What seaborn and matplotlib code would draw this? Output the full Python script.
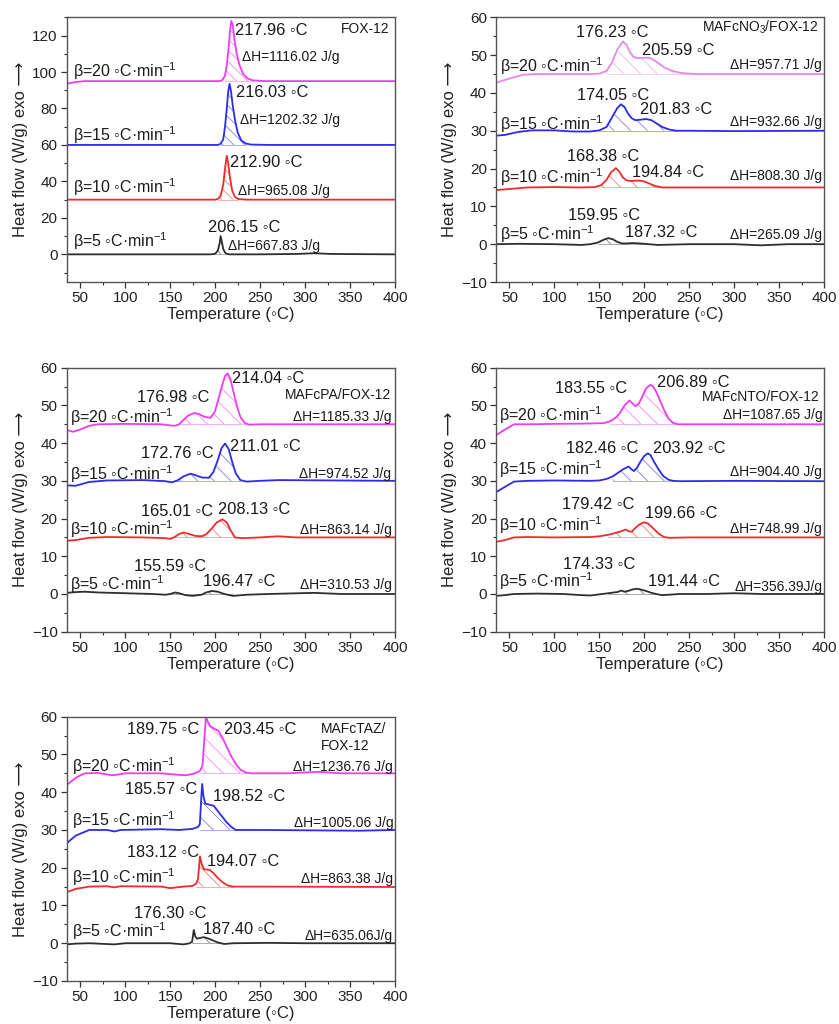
import numpy as np
import pandas as pd
import matplotlib
matplotlib.use("Agg")
import matplotlib.pyplot as plt
import seaborn as sns
from matplotlib.ticker import MultipleLocator

sns.set_theme(style="ticks")
plt.rcParams["font.family"] = ["Liberation Sans", "DejaVu Sans"]
plt.rcParams["mathtext.fontset"] = "custom"
plt.rcParams["mathtext.rm"] = "Liberation Sans"
plt.rcParams["mathtext.default"] = "rm"
plt.rcParams["hatch.linewidth"] = 0.6

DEG = "\u25e6"
rates = [5, 10, 15, 20]
rate_labels = [f"\u03b2={r} {DEG}C\u00b7min$^{{-1}}$" for r in rates]
baselines_1 = [0, 30, 60, 95]
baselines = [0, 15, 30, 45]

# ---------------- Panel 1: FOX-12 ----------------
p1_title = "FOX-12"
p1_T5 = [35, 195, 200, 203, 205, 206.15, 207.5, 209, 211, 213, 216, 250, 290, 310, 330, 400]
p1_y5 = [0, 0, 0.3, 2, 6, 10, 7, 3, 1, 0.3, 0, 0, 0.2, 0.6, 0.2, 0]
p1_T10 = [35, 200, 203, 206, 209, 211, 212.9, 214.5, 216.5, 219, 222, 226, 235, 400]
p1_y10 = [30, 30, 30.4, 32, 38, 47, 54, 50, 42, 35, 31.5, 30.3, 30, 30]
p1_T15 = [35, 203, 206, 209, 211, 213, 214.5, 216.03, 217.5, 219.5, 222, 225, 229, 234, 240, 260, 400]
p1_y15 = [60, 60, 60.6, 63, 70, 80, 89, 93.5, 90, 82, 74, 67, 62.5, 60.8, 60.2, 60, 60]
p1_T20 = [35, 45, 55, 205, 208, 211, 213, 215, 216.5, 217.96, 219.5, 221.5, 224, 227, 231, 236, 242, 255, 400]
p1_y20 = [93.5, 94.5, 95, 95, 95.5, 98, 104, 113, 122, 128, 126, 118, 110, 104, 99, 96.5, 95.4, 95, 95]
p1_peaks = [206.15, 212.90, 216.03, 217.96]
p1_dH = ["\u0394H=667.83 J/g", "\u0394H=965.08 J/g", "\u0394H=1202.32 J/g", "\u0394H=1116.02 J/g"]

# ---------------- Panel 2: MAFcNO3/FOX-12 ----------------
p2_title = "MAFcNO$_3$/FOX-12"
p2_T5 = [35, 60, 100, 130, 140, 148, 155, 160, 165, 170, 175, 180, 187, 195, 205, 215, 250, 300, 330, 360, 400]
p2_y5 = [0, 0.1, 0, -0.2, 0, 0.4, 1.2, 1.6, 1.3, 0.6, 0.2, 0.2, 0.3, 0.2, 0, -0.2, 0, 0, -0.3, 0, 0]
p2_T10 = [35, 50, 70, 100, 130, 145, 152, 158, 163, 168.38, 172, 176, 180, 185, 190, 195, 200, 206, 212, 220, 250, 400]
p2_y10 = [14.3, 14.6, 15, 15.1, 15, 15.1, 15.6, 17, 19, 20.1, 19.3, 17.7, 16.9, 16.7, 16.8, 16.8, 16.6, 16, 15.4, 15, 15, 15]
p2_T15 = [35, 45, 60, 75, 100, 120, 140, 150, 158, 164, 170, 174.05, 178, 182, 186, 190, 195, 202, 208, 214, 220, 228, 236, 250, 300, 400]
p2_y15 = [28.7, 28.9, 29.7, 30.1, 30.1, 29.8, 29.8, 30.1, 31, 33.5, 36, 37, 36.3, 34.5, 33.3, 32.8, 32.9, 33.1, 32.8, 31.9, 31, 30.3, 30, 30, 29.9, 30]
p2_T20 = [35, 50, 65, 80, 140, 150, 158, 164, 170, 176.23, 180, 184, 188, 193, 199, 205.59, 210, 216, 222, 230, 240, 250, 260, 400]
p2_y20 = [42.7, 43.8, 44.8, 45, 45, 45.1, 45.8, 48, 51.5, 53.6, 52.8, 50.8, 49.5, 49.2, 49.3, 49.3, 48.8, 47.8, 46.8, 45.9, 45.3, 45.1, 45, 45]
p2_peaksA = [159.95, 168.38, 174.05, 176.23]
p2_peaksB = [187.32, 194.84, 201.83, 205.59]
p2_dH = ["\u0394H=265.09 J/g", "\u0394H=808.30 J/g", "\u0394H=932.66 J/g", "\u0394H=957.71 J/g"]

# ---------------- Panel 3: MAFcPA/FOX-12 ----------------
p3_title = "MAFcPA/FOX-12"
p3_T5 = [35, 45, 55, 70, 100, 130, 145, 150, 155.59, 160, 167, 175, 185, 190, 196.47, 203, 210, 220, 235, 260, 310, 340, 400]
p3_y5 = [0.3, 0.5, 0.6, 0.4, 0.2, 0, -0.2, 0, 0.4, 0.2, -0.3, -0.5, -0.2, 0.4, 0.8, 0.6, 0, -0.5, -0.2, 0, 0.3, 0, 0]
p3_T10 = [35, 45, 60, 80, 120, 145, 150, 155, 160, 165.01, 170, 178, 185, 190, 196, 202, 208.13, 213, 217, 222, 230, 250, 270, 290, 400]
p3_y10 = [14.1, 14.3, 14.9, 15.1, 15, 14.8, 14.6, 15.1, 15.9, 16.3, 16, 15.4, 15.3, 15.8, 17.3, 19, 19.8, 19, 17, 15, 14.8, 15, 15.3, 15, 15]
p3_T15 = [35, 45, 60, 80, 120, 145, 152, 158, 165, 172.76, 178, 185, 193, 198, 203, 207, 211.01, 215, 219, 223, 228, 235, 250, 270, 400]
p3_y15 = [28.8, 28.7, 29.7, 30.1, 30.2, 29.9, 29.6, 30.1, 31.2, 31.9, 31.5, 30.9, 30.8, 32.3, 35.5, 38.6, 39.9, 38.5, 35, 32, 30.2, 29.8, 30, 30.2, 30]
p3_T20 = [35, 42, 50, 60, 70, 100, 140, 150, 155, 160, 165, 170, 176.98, 182, 188, 195, 200, 204, 208, 211, 214.04, 217, 220, 224, 228, 233, 238, 250, 300, 400]
p3_y20 = [43.5, 43, 43.6, 44.6, 45, 45.1, 45, 44.7, 44.6, 45, 46.2, 47.3, 48, 47.7, 47, 46.7, 48.5, 52, 55.5, 57.8, 58.5, 57, 54, 50, 47, 45.3, 44.9, 45, 45, 45]
p3_peaksA = [155.59, 165.01, 172.76, 176.98]
p3_peaksB = [196.47, 208.13, 211.01, 214.04]
p3_dH = ["\u0394H=310.53 J/g", "\u0394H=863.14 J/g", "\u0394H=974.52 J/g", "\u0394H=1185.33 J/g"]

# ---------------- Panel 4: MAFcNTO/FOX-12 ----------------
p4_title = "MAFcNTO/FOX-12"
p4_T5 = [35, 45, 55, 80, 110, 130, 140, 150, 160, 166, 170, 174.33, 178, 182, 187, 191.44, 196, 202, 208, 215, 220, 240, 270, 300, 330, 400]
p4_y5 = [-0.5, -0.3, 0, 0.1, 0, -0.3, -0.4, -0.1, 0.2, 0.4, 0.5, 0.9, 0.6, 0.8, 1.2, 1.4, 1.2, 0.8, 0.3, -0.1, -0.3, 0, 0, 0.2, 0, 0]
p4_T10 = [35, 45, 55, 70, 100, 140, 150, 160, 168, 174, 179.42, 183, 186, 190, 195, 199.66, 204, 210, 216, 222, 228, 250, 400]
p4_y10 = [13.8, 14.3, 15, 15.1, 15, 15.1, 15.3, 15.7, 16.2, 16.6, 17.1, 16.6, 16.5, 17.5, 18.5, 19, 18.7, 17.4, 16, 15.1, 14.9, 15, 15]
p4_T15 = [35, 45, 55, 70, 100, 140, 150, 158, 165, 170, 176, 182.46, 186, 188.5, 192, 196, 200, 203.92, 207, 211, 216, 221, 227, 232, 240, 300, 400]
p4_y15 = [27, 28.4, 29.8, 30, 30.1, 30, 30.1, 30.5, 31.2, 32, 33, 33.8, 33, 32.6, 33.5, 35.2, 36.6, 37.3, 36.8, 35, 33, 31.3, 30.3, 30, 29.9, 30, 29.9]
p4_T20 = [35, 45, 55, 70, 100, 140, 155, 162, 168, 173, 178, 183.55, 187, 190, 194, 198, 202, 206.89, 210, 214, 218, 222, 227, 232, 237, 250, 400]
p4_y20 = [42.1, 43.6, 45, 45, 45.1, 45.2, 45.3, 45.8, 46.7, 48, 50, 51.3, 50.5, 49.8, 50.5, 52.5, 54.5, 55.5, 55, 53.3, 51, 48.8, 46.5, 45.4, 45, 45, 45]
p4_peaksA = [174.33, 179.42, 182.46, 183.55]
p4_peaksB = [191.44, 199.66, 203.92, 206.89]
p4_dH = ["\u0394H=356.39J/g", "\u0394H=748.99 J/g", "\u0394H=904.40 J/g", "\u0394H=1087.65 J/g"]

# ---------------- Panel 5: MAFcTAZ/FOX-12 ----------------
p5_title = "MAFcTAZ/\nFOX-12"
p5_T5 = [35, 45, 60, 88, 100, 150, 165, 172, 174.5, 176.3, 178, 180, 183, 187.4, 192, 197, 203, 210, 220, 260, 300, 400]
p5_y5 = [-0.3, -0.1, 0, -0.3, 0, 0, -0.3, 0, 0.5, 3.5, 1.8, 1.2, 1.4, 1.6, 1.3, 0.8, 0.2, -0.2, 0, 0.1, 0, 0]
p5_T10 = [35, 45, 60, 80, 88, 95, 140, 150, 165, 175, 179, 181, 183.12, 185, 187.5, 191, 194.07, 198, 203, 208, 214, 220, 250, 400]
p5_y10 = [13.5, 14.4, 15, 15.1, 14.8, 15.1, 15, 14.6, 15, 15.2, 15.8, 17, 23, 21, 19.6, 19.5, 19.4, 18.6, 17.3, 16.2, 15.3, 15, 15, 14.9]
p5_T15 = [35, 45, 60, 80, 88, 95, 140, 160, 175, 181, 183, 184.5, 185.57, 187, 189, 192, 198.52, 203, 208, 213, 218, 223, 250, 360, 400]
p5_y15 = [26.5, 28.5, 30, 30, 29.6, 30, 30.2, 30, 30.3, 30.8, 31.5, 38, 42.2, 39, 37, 36.8, 36.4, 35, 33.5, 32, 30.8, 30, 30, 29.8, 30]
p5_T20 = [35, 45, 55, 70, 85, 90, 100, 140, 160, 168, 176, 183, 186, 188, 189.75, 192, 195, 199, 203.45, 208, 213, 218, 223, 228, 234, 240, 280, 315, 340, 400]
p5_y20 = [41.9, 43.8, 45, 45.1, 44.5, 44.6, 45, 45, 44.6, 44.5, 44.9, 45.6, 47, 54, 60, 58.6, 57.4, 56.8, 56.3, 54.5, 52, 49.5, 47.5, 46, 45.2, 45, 45, 45.4, 45, 45]
p5_peaksA = [176.30, 183.12, 185.57, 189.75]
p5_peaksB = [187.40, 194.07, 198.52, 203.45]
p5_dH = ["\u0394H=635.06J/g", "\u0394H=863.38 J/g", "\u0394H=1005.06 J/g", "\u0394H=1236.76 J/g"]

# ---------------- styling / layout ----------------
COL = ["#2e2e2e", "#ee2b2b", "#2b2be8", "#f03cf0"]
COL_P2 = ["#2e2e2e", "#ee2b2b", "#2b2be8", "#e58ae5"]
FS_PEAK = 11.8
FS_DH = 10
FS_BETA = 11.5
FS_TITLE = 10
FS_TICK = 11
FS_LAB = 12
W, H = 839, 1024


def make_ax(fig, left, top, right, bottom):
    return fig.add_axes([left / W, 1 - bottom / H, (right - left) / W, (bottom - top) / H])


def style_ax(ax, ylim, ymaj, ymin):
    ax.set_xlim(35, 400)
    ax.set_ylim(*ylim)
    ax.xaxis.set_major_locator(MultipleLocator(50))
    ax.xaxis.set_minor_locator(MultipleLocator(25))
    ax.yaxis.set_major_locator(MultipleLocator(ymaj))
    ax.yaxis.set_minor_locator(MultipleLocator(ymin))
    ax.tick_params(which="major", direction="out", length=4, width=0.9, colors="#333333",
                   labelsize=FS_TICK, pad=2.5, labelcolor="#222222")
    ax.tick_params(which="minor", direction="out", length=2.5, width=0.8, colors="#333333")
    for s in ax.spines.values():
        s.set_color("#555555")
        s.set_linewidth(1.0)
    ax.set_xlabel("Temperature (" + DEG + "C)", fontsize=FS_LAB, labelpad=1.5, color="#222222")
    ax.set_ylabel("Heat flow (W/g) exo \u27f6", fontsize=FS_LAB, labelpad=3, color="#222222")
    ax.set_facecolor("white")


def draw_curves(ax, Ts, ys, cols, bases, hatch_ranges, hatch):
    frames = []
    for r, T, y in zip(rates, Ts, ys):
        frames.append(pd.DataFrame({"T": T, "hf": y, "rate": str(r)}))
    df = pd.concat(frames, ignore_index=True)
    sns.lineplot(data=df, x="T", y="hf", hue="rate", palette=dict(zip([str(r) for r in rates], cols)),
                 estimator=None, sort=False, linewidth=1.3, legend=False, ax=ax)
    for T, y, c, b, (lo, hi) in zip(Ts, ys, cols, bases, hatch_ranges):
        T = np.asarray(T, float)
        y = np.asarray(y, float)
        m = (T >= lo) & (T <= hi)
        ax.fill_between(T[m], y[m], b, where=y[m] >= b, interpolate=True,
                        facecolor="none", edgecolor=c, hatch=hatch, linewidth=0, alpha=0.6)
        ax.plot([T[m][0], T[m][-1]], [b, b], color=c, lw=0.6, alpha=0.45)


def txt(ax, x, y, s, fs, ha="left", color="#1a1a1a"):
    ax.text(x, y, s, fontsize=fs, ha=ha, va="center", color=color)


fig = plt.figure(figsize=(W / 100, H / 100), dpi=100)
fig.patch.set_facecolor("white")

# Panel 1
ax1 = make_ax(fig, 66.7, 17.3, 395, 281.7)
draw_curves(ax1, [p1_T5, p1_T10, p1_T15, p1_T20], [p1_y5, p1_y10, p1_y15, p1_y20], COL, baselines_1,
            [(200, 213), (203, 226), (206, 234), (211, 242)], "\\\\\\")
style_ax(ax1, (-15, 130), 20, 10)
for i, (px, py) in enumerate([(192.6, 14.6), (216.7, 50.3), (223, 88.7), (222, 122.5)]):
    txt(ax1, px, py, f"{p1_peaks[i]:.2f} {DEG}C", FS_PEAK)
for i, (px, py) in enumerate([(214.8, 4.8), (226, 35), (227.8, 73.7), (229.6, 108.5)]):
    txt(ax1, px, py, p1_dH[i], FS_DH)
for i, py in enumerate([7, 37, 65.5, 100.6]):
    txt(ax1, 42, py, rate_labels[i], FS_BETA)
txt(ax1, 394, 123.5, p1_title, FS_TITLE, ha="right")

# Panel 2
ax2 = make_ax(fig, 496, 17.3, 824, 282)
draw_curves(ax2, [p2_T5, p2_T10, p2_T15, p2_T20], [p2_y5, p2_y10, p2_y15, p2_y20], COL_P2, baselines,
            [(145, 215), (150, 220), (150, 236), (155, 260)], "\\\\")
style_ax(ax2, (-10, 60), 10, 5)
for i, (px, py) in enumerate([(114.9, 7.5), (113.8, 23.2), (124.9, 39.3), (124.2, 56)]):
    txt(ax2, px, py, f"{p2_peaksA[i]:.2f} {DEG}C", FS_PEAK)
for i, (px, py) in enumerate([(178.7, 3.2), (186, 18.9), (195.3, 35.5), (197.2, 51.2)]):
    txt(ax2, px, py, f"{p2_peaksB[i]:.2f} {DEG}C", FS_PEAK)
for i, py in enumerate([2.5, 17.9, 32.2, 47.4]):
    txt(ax2, 397.4, py, p2_dH[i], FS_DH, ha="right")
for i, py in enumerate([2.6, 17.7, 31.8, 47]):
    txt(ax2, 38.9, py, rate_labels[i], FS_BETA)
txt(ax2, 394, 57.4, p2_title, FS_TITLE, ha="right")

# Panel 3
ax3 = make_ax(fig, 66.7, 367.7, 395, 631.7)
draw_curves(ax3, [p3_T5, p3_T10, p3_T15, p3_T20], [p3_y5, p3_y10, p3_y15, p3_y20], COL, baselines,
            [(145, 220), (150, 222), (158, 228), (160, 238)], "\\\\")
style_ax(ax3, (-10, 60), 10, 5)
for i, (px, py) in enumerate([(109.3, 7.3), (117.8, 22), (117.8, 37.2), (113, 52)]):
    txt(ax3, px, py, f"{p3_peaksA[i]:.2f} {DEG}C", FS_PEAK)
for i, (px, py) in enumerate([(187, 3.4), (203.7, 22.4), (216.7, 39), (219.3, 57.1)]):
    txt(ax3, px, py, f"{p3_peaksB[i]:.2f} {DEG}C", FS_PEAK)
for i, py in enumerate([2.3, 17, 31.9, 46.9]):
    txt(ax3, 396, py, p3_dH[i], FS_DH, ha="right")
for i, py in enumerate([2.7, 17.3, 31.9, 46.8]):
    txt(ax3, 38.9, py, rate_labels[i], FS_BETA)
txt(ax3, 396, 52.7, p3_title, FS_TITLE, ha="right")

# Panel 4
ax4 = make_ax(fig, 496, 367.7, 824, 631.7)
draw_curves(ax4, [p4_T5, p4_T10, p4_T15, p4_T20], [p4_y5, p4_y10, p4_y15, p4_y20], COL, baselines,
            [(160, 215), (160, 222), (165, 232), (162, 237)], "\\\\")
style_ax(ax4, (-10, 60), 10, 5)
for i, (px, py) in enumerate([(110, 7.8), (108.2, 23.7), (112.7, 38.5), (100.8, 54.4)]):
    txt(ax4, px, py, f"{p4_peaksA[i]:.2f} {DEG}C", FS_PEAK)
for i, (px, py) in enumerate([(203.9, 3.4), (200.9, 21.3), (210.2, 38.5), (214.6, 56.2)]):
    txt(ax4, px, py, f"{p4_peaksB[i]:.2f} {DEG}C", FS_PEAK)
for i, py in enumerate([1.9, 17.1, 32.3, 47.4]):
    txt(ax4, 398, py, p4_dH[i], FS_DH, ha="right")
for i, py in enumerate([3.4, 18.2, 33, 47.4]):
    txt(ax4, 37.8, py, rate_labels[i], FS_BETA)
txt(ax4, 395.6, 52.2, p4_title, FS_TITLE, ha="right")

# Panel 5
ax5 = make_ax(fig, 66.7, 716.7, 395, 981)
draw_curves(ax5, [p5_T5, p5_T10, p5_T15, p5_T20], [p5_y5, p5_y10, p5_y15, p5_y20], COL, baselines,
            [(174.5, 210), (179, 220), (183, 223), (183, 240)], "\\\\")
style_ax(ax5, (-10, 60), 10, 5)
for i, (px, py) in enumerate([(109.3, 7.9), (101.9, 24.1), (100, 40.8), (101.9, 56.5)]):
    txt(ax5, px, py, f"{p5_peaksA[i]:.2f} {DEG}C", FS_PEAK)
for i, (px, py) in enumerate([(186.3, 3.7), (191.5, 21.6), (198, 38.8), (210, 56.5)]):
    txt(ax5, px, py, f"{p5_peaksB[i]:.2f} {DEG}C", FS_PEAK)
for i, py in enumerate([1.9, 17, 31.8, 46.8]):
    txt(ax5, 398, py, p5_dH[i], FS_DH, ha="right")
for i, py in enumerate([3.1, 17.4, 32.7, 47]):
    txt(ax5, 40.7, py, rate_labels[i], FS_BETA)
ax5.text(317.8, 54.5, p5_title, fontsize=FS_TITLE, ha="left", va="center", color="#1a1a1a", linespacing=1.2)

fig.savefig("out.png", dpi=100, facecolor="white")
